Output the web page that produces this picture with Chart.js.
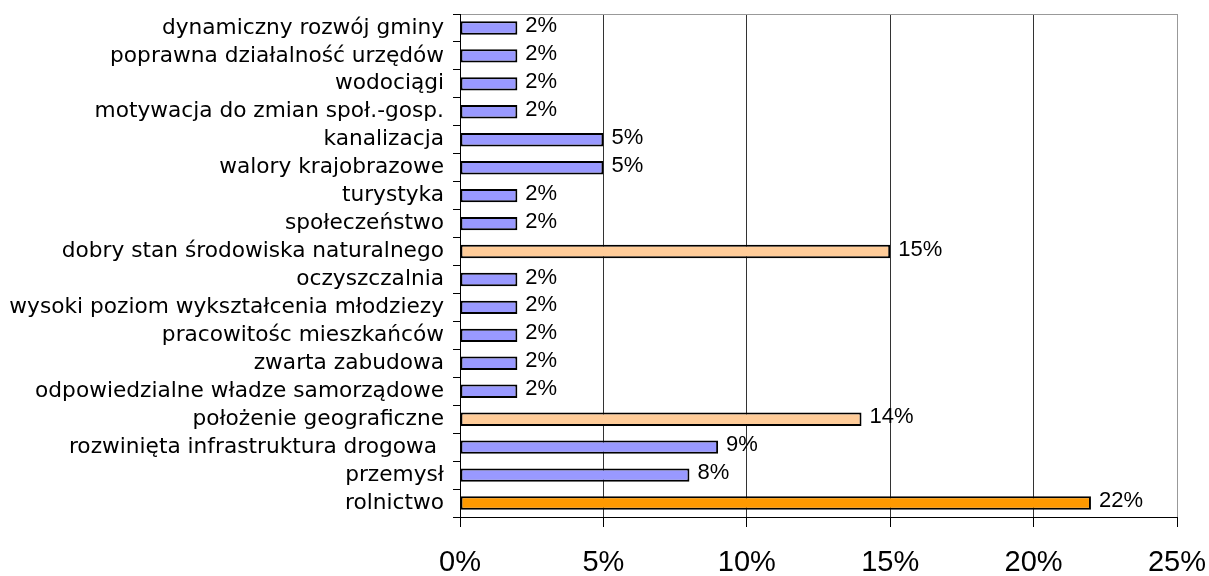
<!DOCTYPE html>
<html>
<head>
<meta charset="utf-8">
<script src="https://cdn.jsdelivr.net/npm/chart.js@4/dist/chart.umd.min.js"></script>
<style>
  body { margin: 0; background: #fff; }
  #wrap { width: 1209px; height: 576px; position: relative; }
</style>
</head>
<body>
<div id="wrap"><canvas id="chart-canvas"></canvas></div>
<script>
// categories, top to bottom
const categories = [
  "dynamiczny rozwój gminy",
  "poprawna działalność urzędów",
  "wodociągi",
  "motywacja do zmian społ.-gosp.",
  "kanalizacja",
  "walory krajobrazowe",
  "turystyka",
  "społeczeństwo",
  "dobry stan środowiska naturalnego",
  "oczyszczalnia",
  "wysoki poziom wykształcenia młodziezy",
  "pracowitośc mieszkańców",
  "zwarta zabudowa",
  "odpowiedzialne władze samorządowe",
  "położenie geograficzne",
  "rozwinięta infrastruktura drogowa ",
  "przemysł",
  "rolnictwo",
];

// percent values
const values = [2, 2, 2, 2, 5, 5, 2, 2, 15, 2, 2, 2, 2, 2, 14, 9, 8, 22];

const xTicks = [0, 5, 10, 15, 20, 25];

// colour per bar
const barColors = values.map((v, i) => {
  if (categories[i] === "rolnictwo") return "#ff9900";
  if (v >= 14) return "#ffcc99";
  return "#9999ff";
});

// draws the "n%" labels at the end of each bar
const valueLabels = {
  id: "valueLabels",
  afterDatasetsDraw(chart) {
    const ctx = chart.ctx;
    const meta = chart.getDatasetMeta(0);
    ctx.save();
    ctx.font = '22px "Liberation Sans", Arial, sans-serif';
    ctx.fillStyle = "#000";
    ctx.textAlign = "left";
    ctx.textBaseline = "middle";
    meta.data.forEach((bar, i) => {
      ctx.fillText(values[i] + "%", bar.x + 8, bar.y - 2);
    });
    ctx.restore();
  },
};

const ctx = document.getElementById("chart-canvas").getContext("2d");
const myChart = new Chart(ctx, {
  type: "bar",
  data: {
    labels: categories,
    datasets: [
      {
        data: values,
        backgroundColor: barColors,
        borderColor: "#000",
        borderWidth: 2,
        borderSkipped: false,
        barPercentage: 0.48,
        categoryPercentage: 1,
      },
    ],
  },
  options: {
    indexAxis: "y",
    responsive: true,
    maintainAspectRatio: false,
    animation: false,
    layout: {
      padding: { top: 14, right: 32, left: 0, bottom: 0 },
    },
    plugins: {
      legend: { display: false },
      tooltip: { enabled: false },
    },
    scales: {
      x: {
        min: 0,
        max: 25,
        afterBuildTicks: (scale) => {
          scale.ticks = xTicks.map((v) => ({ value: v }));
        },
        afterFit: (scale) => {
          scale.height = 59;
          scale.paddingLeft = 0;
          scale.paddingRight = 0;
        },
        border: { color: "#000", width: 1 },
        grid: {
          color: (c) => (c.tick && c.tick.value === 25 ? "#999" : "#333"),
          tickColor: "#000",
          tickLength: 10,
          lineWidth: 1,
        },
        ticks: {
          padding: 19,
          color: "#000",
          font: { family: '"Liberation Sans", Arial, sans-serif', size: 29 },
          callback: (v) => v + "%",
        },
      },
      y: {
        afterFit: (scale) => {
          scale.width = 460;
          scale.paddingTop = 0;
          scale.paddingBottom = 0;
        },
        border: { color: "#000", width: 1 },
        grid: {
          offset: true,
          color: (c) => (c.index === 0 ? "#999" : "rgba(0,0,0,0)"),
          tickColor: "#000",
          tickLength: 7,
        },
        ticks: {
          padding: 9,
          color: "#000",
          autoSkip: false,
          font: { family: '"DejaVu Sans", Verdana, sans-serif', size: 21.7 },
        },
      },
    },
  },
  plugins: [valueLabels],
});
</script>
</body>
</html>
